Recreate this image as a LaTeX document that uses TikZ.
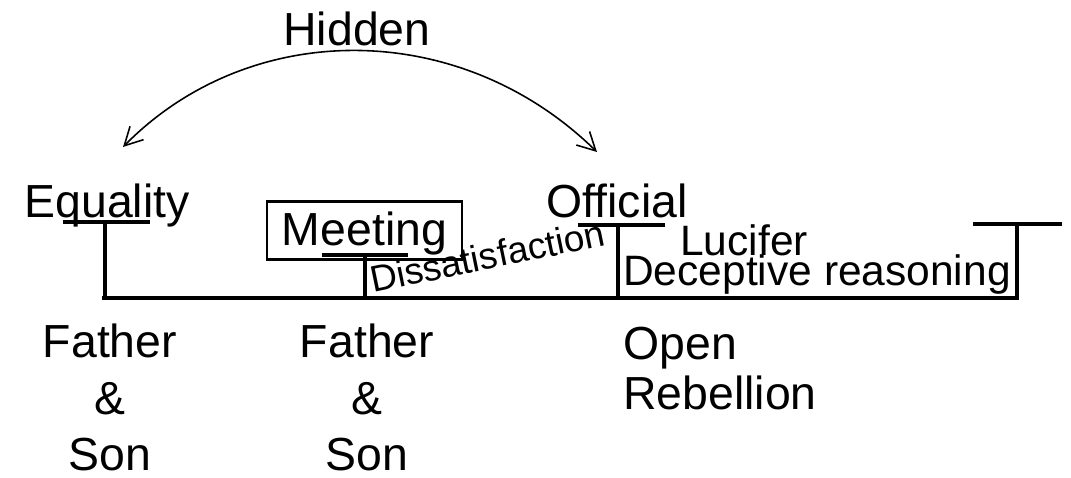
\documentclass[tikz,border=0pt]{standalone}
\usepackage{fontspec}
\setmainfont{Liberation Sans}
\usetikzlibrary{arrows.meta, calc}

\begin{document}
\begin{tikzpicture}[x=0.02cm, y=-0.02cm, >={Straight Barb[length=3.6mm,width=3.8mm]},
    txt/.style={inner sep=0pt, font=\fontsize{26.4}{32}\selectfont},
    smalltxt/.style={inner sep=0pt, font=\fontsize{24.2}{28}\selectfont},
    bar/.style={line width=0.08cm}]
    \useasboundingbox (0,0) rectangle (1071,477);

    % timeline and its markers
    \draw[bar] (102,298) -- (1019,298);
    \foreach \x/\y/\l/\r in {105/222/63/150, 365/255/322/408, 618/225/578/665, 1017/224/973/1062}
      \draw[bar] (\l,\y) -- (\r,\y) (\x,\y) -- (\x,300);

    % labels above the line
    \node[txt, anchor=base] (equality) at (107,217) {Equality};
    \node[txt, anchor=base] (official) at (617,217) {Official};
    \node[txt, draw, line width=1.5pt, minimum width=3.9cm, inner sep=0.08cm,
          text height=0.8cm, text depth=0.2cm, anchor=north] (meeting) at (364.5,200) {Meeting};
    \node[inner sep=0pt, font=\fontsize{21}{25}\selectfont, anchor=base, rotate=11.6]
          (dissat) at (490,269) {Dissatisfaction};
    \node[smalltxt, anchor=base] (lucifer) at (744,255) {Lucifer};
    \node[smalltxt, anchor=base] (deceptive) at (817,285) {Deceptive reasoning};

    % hidden link
    \node[txt, anchor=base] (hidden) at (357,45) {Hidden};
    \coordinate (hidL) at (123,147);
    \coordinate (hidR) at (597,152);
    \draw[<->, line width=0.9pt] (hidL) .. controls (250,18) and (460,18) .. (hidR);

    % labels below the line
    \node[txt, align=center, anchor=north] (fs1) at (110,324) {Father\\\&\\Son};
    \node[txt, align=center, anchor=north] (fs2) at (367,324) {Father\\\&\\Son};
    \node[txt, align=left, anchor=north west, font=\fontsize{26.4}{28.5}\selectfont]
          (rebel) at (623,327) {Open\\Rebellion};
\end{tikzpicture}
\end{document}
